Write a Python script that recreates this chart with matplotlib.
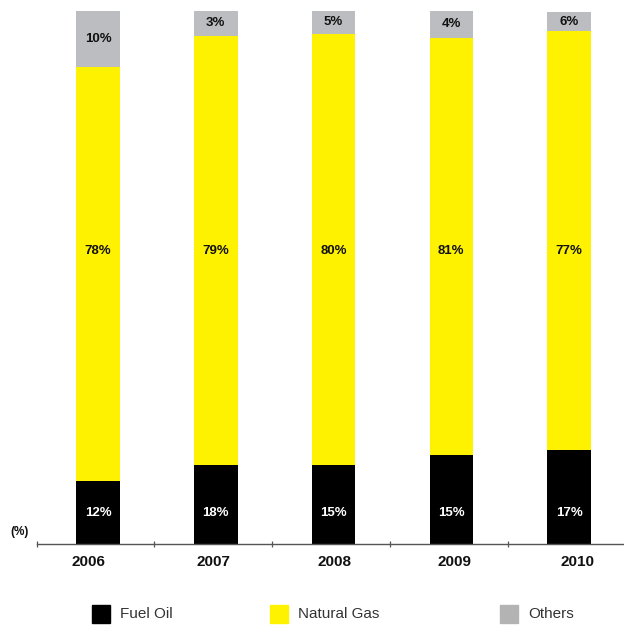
import matplotlib
matplotlib.use("Agg")
import matplotlib.pyplot as plt
from matplotlib.patches import Rectangle
import numpy as np

years = ['2006', '2007', '2008', '2009', '2010']
# segment heights (%)
fuel_oil = [11.8, 14.9, 14.9, 16.7, 17.7]
natural_gas = [77.7, 80.5, 80.8, 78.3, 78.5]
others = [10.5, 4.6, 4.3, 5.0, 3.6]
# labels as printed on the bars
fuel_lbl = ['12%', '18%', '15%', '15%', '17%']
gas_lbl = ['78%', '79%', '80%', '81%', '77%']
oth_lbl = ['10%', '3%', '5%', '4%', '6%']

c_fuel = '#000000'
c_gas = '#FFF200'
c_oth = '#BCBDC0'

plt.rcParams['font.family'] = ['Liberation Sans', 'DejaVu Sans']

fig = plt.figure(figsize=(6.24, 6.25), dpi=100)
ax = fig.add_axes([36.7 / 624, 1 - 544.3 / 625, 1 - 36.7 / 624, 533.3 / 625])

x = np.arange(len(years)) + 0.02
w = 0.37
fuel = np.array(fuel_oil)
gas = np.array(natural_gas)
oth = np.array(others)

ax.bar(x, fuel, w, color=c_fuel)
ax.bar(x, gas, w, bottom=fuel, color=c_gas)
ax.bar(x, oth, w, bottom=fuel + gas, color=c_oth)

# etiquetas de los segmentos
for i in range(len(years)):
    ax.text(x[i], 5.9, fuel_lbl[i], ha='center', va='center', color='white',
            fontsize=9.5, fontweight='bold')
    ax.text(x[i], 55, gas_lbl[i], ha='center', va='center', color='#111111',
            fontsize=9.5, fontweight='bold')
    ax.text(x[i], fuel[i] + gas[i] + oth[i] / 2, oth_lbl[i], ha='center',
            va='center', color='#111111', fontsize=9.5, fontweight='bold')

ax.set_xlim(-0.5, 4.486)
ax.set_ylim(0, 100)

for s in ['top', 'right', 'left']:
    ax.spines[s].set_visible(False)
ax.spines['bottom'].set_color('#555555')
ax.spines['bottom'].set_linewidth(1.0)

ax.set_yticks([])
# los años no quedan exactamente centrados en la imagen original
ax.set_xticks(np.arange(len(years)) + np.array([-0.06, 0.0, 0.03, 0.05, 0.09]))
ax.set_xticklabels(years, fontsize=11, fontweight='bold', color='#111111')
ax.tick_params(axis='x', which='major', length=0, pad=8)
ax.set_xticks(np.arange(-0.5, 4.5, 1), minor=True)
ax.tick_params(axis='x', which='minor', direction='inout', length=5,
               width=0.9, color='#555555')

fig.text(10 / 624, 1 - 532 / 625, '(%)', fontsize=8.5, fontweight='bold',
         va='center', ha='left', color='#111111')

# leyenda manual
items = [(92, c_fuel, 'Fuel Oil'), (270, c_gas, 'Natural Gas'),
         (500, '#B3B3B3', 'Others')]
for px, col, name in items:
    fig.patches.append(Rectangle((px / 624, 1 - 623 / 625), 18 / 624, 18 / 625,
                                 transform=fig.transFigure, color=col))
    fig.text((px + 28) / 624, 1 - 614 / 625, name, fontsize=11,
             va='center', ha='left', color='#333333')

fig.savefig('out.png', dpi=100)
